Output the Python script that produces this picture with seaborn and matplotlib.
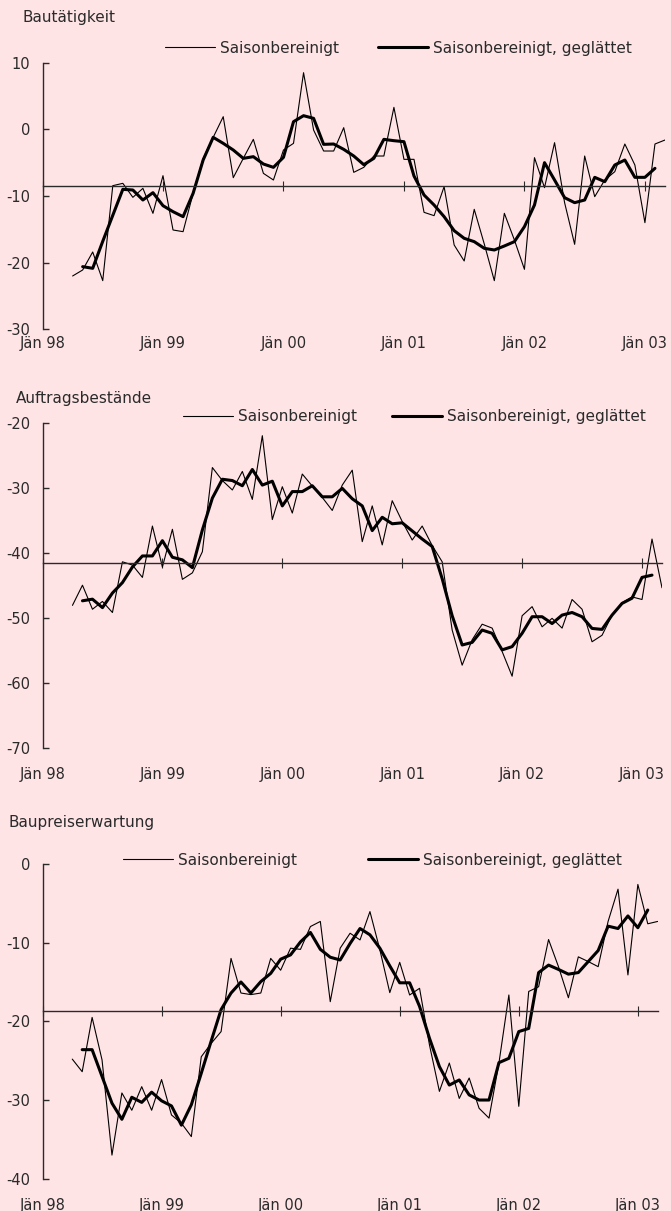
import numpy as np
import pandas as pd
import matplotlib
matplotlib.use("Agg")
import matplotlib.pyplot as plt
import seaborn as sns

# Monthly index: 0 = Jän 98
raw_months = list(range(3, 63))      # Apr 98 .. Mar 03
smooth_months = list(range(4, 62))   # Mai 98 .. Feb 03
tick_months = [0, 12, 24, 36, 48, 60]
tick_labels = ['Jän 98', 'Jän 99', 'Jän 00', 'Jän 01', 'Jän 02', 'Jän 03']

titles = ['Bautätigkeit', 'Auftragsbestände', 'Baupreiserwartung']
series_names = ['Saisonbereinigt', 'Saisonbereinigt, geglättet']

bau_raw = [-22.0, -21.1, -18.4, -22.7, -8.45, -8.1, -10.2, -8.85, -12.6, -6.95,
           -15.1, -15.35, -9.6, -4.35, -1.2, 1.9, -7.25, -4.35, -1.5, -6.6,
           -7.6, -3.1, -2.1, 8.5, -0.1, -3.25, -3.25, 0.25, -6.45, -5.7,
           -4.0, -4.0, 3.3, -4.5, -4.5, -12.45, -12.95, -8.6, -17.35, -19.75,
           -12.0, -17.2, -22.7, -12.6, -16.6, -21.0, -4.25, -8.75, -2.0, -11.0,
           -17.25, -4.0, -10.1, -7.6, -6.35, -2.2, -5.35, -14.0, -2.2, -1.6]
bau_smooth = [-20.6, -20.85, -16.8, -12.9, -9.0, -9.1, -10.6, -9.5, -11.45, -12.35,
              -13.1, -9.6, -4.6, -1.2, -2.1, -3.1, -4.35, -4.1, -5.2, -5.7,
              -4.2, 1.15, 2.05, 1.65, -2.25, -2.2, -3.0, -4.0, -5.3, -4.35,
              -1.5, -1.7, -1.85, -7.0, -9.85, -11.35, -13.1, -15.2, -16.35, -16.85,
              -17.85, -18.1, -17.5, -16.85, -14.6, -11.35, -5.0, -7.6, -10.25, -11.0,
              -10.6, -7.2, -7.85, -5.35, -4.6, -7.2, -7.2, -5.85]

auf_raw = [-48.1, -45.0, -48.7, -47.5, -49.2, -41.4, -41.9, -43.8, -35.9, -42.2,
           -36.4, -44.1, -43.1, -39.85, -26.9, -28.9, -30.35, -27.5, -31.8, -22.0,
           -34.9, -29.85, -33.9, -27.9, -29.75, -31.5, -33.5, -29.6, -27.3, -38.3,
           -32.8, -38.8, -32.0, -35.2, -38.05, -35.9, -38.9, -41.4, -51.9, -57.3,
           -53.4, -51.0, -51.6, -55.2, -59.0, -49.7, -48.3, -51.4, -50.1, -51.6,
           -47.2, -48.7, -53.7, -52.7, -49.6, -47.7, -46.8, -47.2, -37.9, -45.4]
auf_smooth = [-47.4, -47.15, -48.45, -46.2, -44.6, -42.2, -40.5, -40.5, -38.15, -40.7,
              -41.1, -42.3, -36.5, -31.6, -28.7, -28.9, -29.7, -27.2, -29.6, -29.0,
              -32.8, -30.6, -30.6, -29.7, -31.4, -31.4, -30.1, -31.7, -32.8, -36.6,
              -34.55, -35.55, -35.4, -36.65, -37.9, -39.05, -44.0, -49.7, -54.2, -53.8,
              -51.9, -52.4, -54.95, -54.45, -52.4, -49.85, -49.85, -50.9, -49.6, -49.2,
              -49.85, -51.65, -51.8, -49.6, -47.8, -47.0, -43.8, -43.45]

preis_raw = [-24.8, -26.4, -19.5, -24.9, -37.0, -29.1, -31.3, -28.3, -31.3, -27.4,
             -31.9, -32.95, -34.65, -24.5, -22.8, -21.3, -12.0, -16.4, -16.6, -16.4,
             -12.0, -13.5, -10.7, -10.85, -7.95, -7.3, -17.5, -10.7, -8.8, -9.65,
             -6.05, -10.9, -16.35, -12.5, -16.65, -15.8, -23.0, -28.9, -25.3, -29.8,
             -27.2, -31.05, -32.3, -25.3, -16.65, -30.8, -16.2, -15.6, -9.6, -13.05,
             -17.0, -11.8, -12.4, -13.05, -7.3, -3.2, -14.1, -2.6, -7.6, -7.3]
preis_smooth = [-23.6, -23.6, -27.0, -30.4, -32.45, -29.65, -30.3, -29.0, -30.1, -30.75,
                -33.2, -30.6, -26.6, -22.5, -18.5, -16.4, -15.0, -16.4, -14.95, -13.9,
                -12.1, -11.55, -9.9, -8.7, -10.85, -11.85, -12.2, -10.1, -8.2, -9.0,
                -10.7, -12.95, -15.1, -15.1, -18.1, -22.15, -25.75, -28.1, -27.45, -29.35,
                -30.0, -30.0, -25.25, -24.7, -21.3, -20.9, -13.8, -12.85, -13.4, -14.0,
                -13.8, -12.4, -11.0, -7.9, -8.2, -6.6, -8.1, -5.85]

# long-term averages (horizontal axis line)
ref_levels = [-8.5, -41.6, -18.65]
y_limits = [(-30, 10), (-70, -20), (-40, 0)]
y_ticks = [np.arange(-30, 11, 10), np.arange(-70, -19, 10), np.arange(-40, 1, 10)]

BG = '#FFE4E6'
INK = '#2a2a2a'
FS = 11
TICK_FS = 10.5

sns.set_theme(style='ticks')
plt.rcParams['font.family'] = ['DejaVu Sans']
plt.rcParams['axes.unicode_minus'] = False
plt.rcParams['text.color'] = INK
plt.rcParams['axes.edgecolor'] = INK
plt.rcParams['xtick.color'] = INK
plt.rcParams['ytick.color'] = INK

W, H = 671, 1211
fig = plt.figure(figsize=(W / 100, H / 100), dpi=100, facecolor=BG)

# pixel layout of each panel: left, right, top, bottom
boxes = [(42.5, 665, 62.7, 329.3), (42.5, 662, 422.7, 747.7), (42.5, 657.7, 864, 1178.7)]
title_pos = [(22, 17.5), (16, 399), (9, 822)]
legend_pos = [((165, 48), (378, 48)), ((183, 417), (392, 417)), ((123, 860), (368, 860))]
label_pad = [5, 14, 14]

data = [(bau_raw, bau_smooth), (auf_raw, auf_smooth), (preis_raw, preis_smooth)]

for i, (raw, smooth) in enumerate(data):
    l, r, t, b = boxes[i]
    ax = fig.add_axes([l / W, 1 - b / H, (r - l) / W, (b - t) / H])
    ax.set_facecolor(BG)

    df_raw = pd.DataFrame({'month': raw_months, 'value': raw})
    df_smooth = pd.DataFrame({'month': smooth_months, 'value': smooth})
    sns.lineplot(data=df_raw, x='month', y='value', ax=ax, color='black', linewidth=0.8)
    sns.lineplot(data=df_smooth, x='month', y='value', ax=ax, color='black', linewidth=2.2)

    ax.set_xlim(0, 62)
    ax.set_ylim(*y_limits[i])
    ax.set_yticks(y_ticks[i])
    ax.set_xlabel('')
    ax.set_ylabel('')

    for s in ['top', 'right']:
        ax.spines[s].set_visible(False)
    ax.spines['left'].set_linewidth(1.0)
    ax.spines['bottom'].set_position(('data', ref_levels[i]))
    ax.spines['bottom'].set_linewidth(1.0)

    ax.set_xticks(tick_months)
    ax.tick_params(axis='x', direction='inout', length=7, width=0.8, labelbottom=False)
    ax.tick_params(axis='y', direction='in', length=4, width=1.0, pad=9, labelsize=TICK_FS)

    sec = ax.secondary_xaxis('bottom')
    sec.set_xticks(tick_months)
    sec.set_xticklabels(tick_labels)
    sec.tick_params(length=0, pad=label_pad[i], labelsize=TICK_FS)
    sec.spines['bottom'].set_visible(False)

    tx, ty = title_pos[i]
    fig.text(tx / W, 1 - ty / H, titles[i], fontsize=FS, va='center', ha='left')

    lines = ax.get_lines()
    for h, name, (px, py) in zip(lines[:2], series_names, legend_pos[i]):
        fig.legend(handles=[h], labels=[name], loc='center left',
                   bbox_to_anchor=(px / W, 1 - py / H), frameon=False,
                   borderpad=0, borderaxespad=0, handlelength=3.3,
                   handletextpad=0.3, fontsize=FS)

fig.savefig('out.png', dpi=100, facecolor=BG)
